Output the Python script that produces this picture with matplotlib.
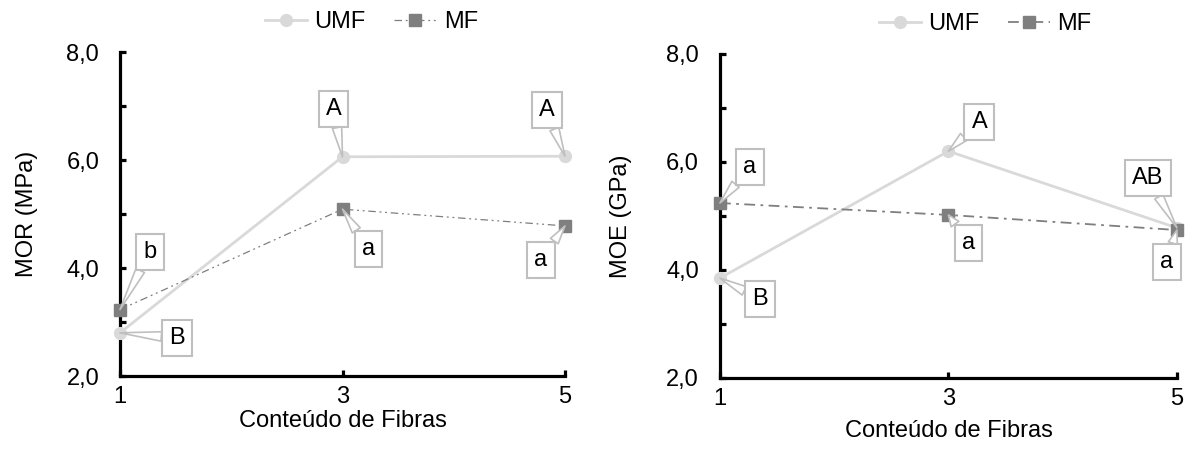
import numpy as np
import matplotlib.pyplot as plt
from matplotlib.ticker import MultipleLocator, FuncFormatter

plt.rcParams['font.family'] = ['Liberation Sans', 'DejaVu Sans']

# dados
fibras = [1, 3, 5]
mor_umf = [2.80, 6.06, 6.07]
mor_mf = [3.23, 5.09, 4.78]
moe_umf = [3.85, 6.20, 4.78]
moe_mf = [5.24, 5.02, 4.74]

# letras de Tukey
mor_umf_let = ["B", "A", "A"]
mor_mf_let = ["b", "a", "a"]
moe_umf_let = ["B", "A", "AB"]
moe_mf_let = ["a", "a", "a"]

# deslocamento das caixas (pixels)
mor_umf_off = [(57, -5), (-9, 48), (-18, 46)]
mor_mf_off = [(30, 58), (26, -40), (-24, -34)]
moe_umf_off = [(40, -21), (31, 29), (-29, 50)]
moe_mf_off = [(30, 36), (20, -28), (-10, -32)]

C_UMF = "#d9d9d9"
C_MF = "#7f7f7f"
C_BOX = "#bfbfbf"
FS = 17

fig = plt.figure(figsize=(11.88, 4.58), dpi=100)
ax1 = fig.add_axes([0.101, 0.179, 0.3746, 0.7074])
ax2 = fig.add_axes([0.606, 0.1747, 0.3847, 0.7074])


def rotulos(ax, xs, ys, letras, offs):
    for x, y, t, (dx, dy) in zip(xs, ys, letras, offs):
        ax.annotate(t, xy=(x, y), xytext=(dx, dy), textcoords="offset pixels",
                    ha="center", va="center", fontsize=FS, zorder=5,
                    bbox=dict(boxstyle="square,pad=0.3", fc="white", ec=C_BOX, lw=1.5),
                    arrowprops=dict(arrowstyle="wedge,tail_width=0.4", fc="white",
                                    ec=C_BOX, lw=1.2, shrinkA=0, shrinkB=0))


def painel(ax, umf, mf, umf_let, mf_let, umf_off, mf_off, ls_mf, lw_mf, ylabel, ylab_x, xlab_y, leg_x):
    ax.plot(fibras, umf, color=C_UMF, lw=2, marker="o", ms=8.5, label="UMF", clip_on=False, zorder=3)
    ax.plot(fibras, mf, color=C_MF, lw=lw_mf, ls=ls_mf, marker="s", ms=8.5, label="MF", clip_on=False, zorder=3)
    rotulos(ax, fibras, umf, umf_let, umf_off)
    rotulos(ax, fibras, mf, mf_let, mf_off)

    ax.set_xlim(1, 5)
    ax.set_ylim(2, 8)
    ax.set_xticks(fibras)
    ax.yaxis.set_major_locator(MultipleLocator(2))
    ax.yaxis.set_minor_locator(MultipleLocator(1))
    ax.yaxis.set_major_formatter(FuncFormatter(lambda v, p: f"{v:.1f}".replace(".", ",")))
    for s in ["top", "right"]:
        ax.spines[s].set_visible(False)
    for s in ["left", "bottom"]:
        ax.spines[s].set_linewidth(2.3)
    ax.tick_params(axis="both", which="both", direction="in", length=4, width=2.3, labelsize=FS)
    ax.tick_params(axis="y", which="major", pad=15)
    ax.tick_params(axis="x", pad=7)

    ax.set_ylabel(ylabel, fontsize=FS)
    ax.yaxis.set_label_coords(ylab_x, 0.5)
    ax.set_xlabel("Conteúdo de Fibras", fontsize=FS)
    ax.xaxis.set_label_coords(0.5, xlab_y)

    ax.legend(loc="center", bbox_to_anchor=(leg_x, 1.093), ncol=2, frameon=False,
              fontsize=FS, handlelength=1.8, columnspacing=1.2, handletextpad=0.3)


painel(ax1, mor_umf, mor_mf, mor_umf_let, mor_mf_let, mor_umf_off, mor_mf_off,
       (0, (6, 3, 1.5, 3, 1.5, 3)), 0.9, "MOR (MPa)", -0.184, -0.105, 0.565)
painel(ax2, moe_umf, moe_mf, moe_umf_let, moe_mf_let, moe_umf_off, moe_mf_off,
       (0, (6, 3, 1.5, 3)), 1.3, "MOE (GPa)", -0.193, -0.13, 0.58)

fig.savefig("out.png", dpi=100)
